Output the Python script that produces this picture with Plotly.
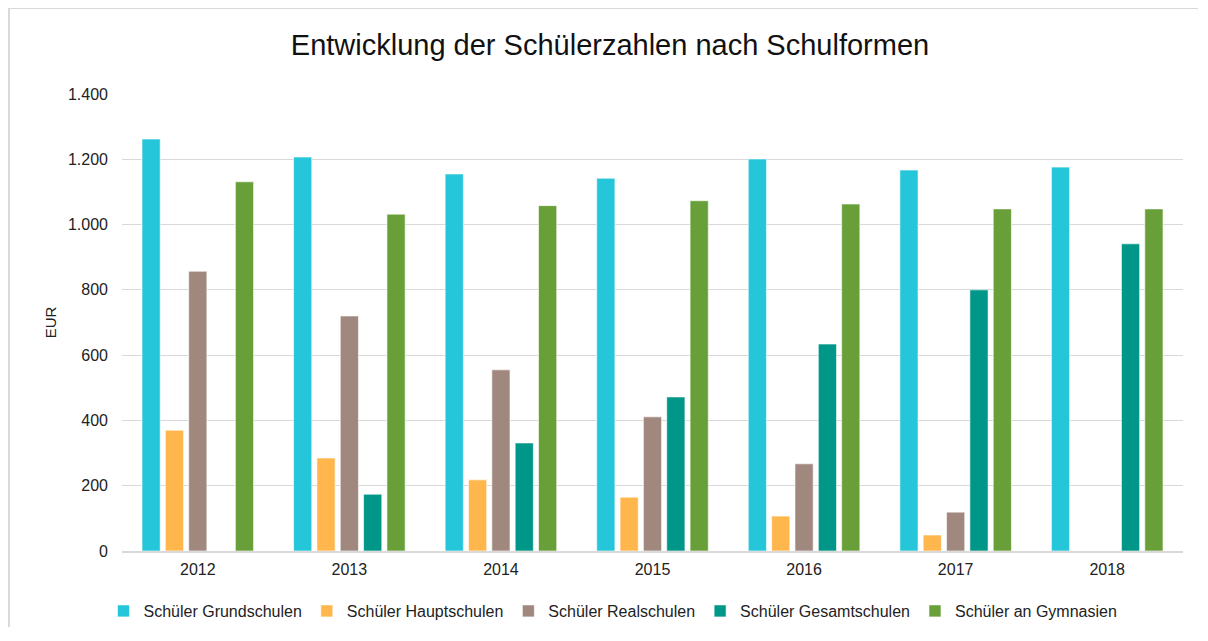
import plotly.graph_objects as go

years = ["2012", "2013", "2014", "2015", "2016", "2017", "2018"]
grundschulen = [1262, 1207, 1155, 1142, 1201, 1167, 1176]
hauptschulen = [370, 285, 218, 165, 107, 49, 0]
realschulen = [857, 720, 555, 411, 267, 119, 0]
gesamtschulen = [0, 174, 331, 472, 634, 800, 941]
gymnasien = [1131, 1032, 1058, 1073, 1063, 1048, 1048]

series = [
    ("Schüler Grundschulen", grundschulen, "#26C6DA"),
    ("Schüler Hauptschulen", hauptschulen, "#FFB74D"),
    ("Schüler Realschulen", realschulen, "#A1887F"),
    ("Schüler Gesamtschulen", gesamtschulen, "#009688"),
    ("Schüler an Gymnasien", gymnasien, "#689F38"),
]

fig = go.Figure()
for name, vals, col in series:
    fig.add_trace(go.Bar(
        name=name, x=years, y=vals,
        marker=dict(color=col, line=dict(color="rgba(255,255,255,0.6)", width=1)),
    ))

# page has an 8px body margin; keep the figure well inside the
# 1208x641 viewport so that no scrollbars appear
OFF = 8
W, H = 1190, 619
L, T = 122 - OFF, 94 - OFF
R = (OFF + W) - 1183
B = (OFF + H) - 551
pw = W - L - R
ph = H - T - B

def px_x(p):  # page pixel -> paper x
    return (p - OFF - L) / pw

def px_y(p):  # page pixel -> paper y
    return (H - B - (p - OFF)) / ph

bx0, bx1 = px_x(9), px_x(1230)
by0, by1 = px_y(680), px_y(8)
border_path = f"M {bx0},{by0} L {bx0},{by1} L {bx1},{by1}"

fig.update_layout(
    width=W, height=H,
    margin=dict(l=L, r=R, t=T, b=B, autoexpand=False),
    paper_bgcolor="white", plot_bgcolor="white",
    separators=",.",
    font=dict(family="Liberation Sans, Arial, sans-serif", size=16, color="#222222"),
    title=dict(text="Entwicklung der Schülerzahlen nach Schulformen",
               x=(610 - OFF) / W, xanchor="center", xref="container",
               y=1 - (45 - OFF) / H, yanchor="middle", yref="container",
               font=dict(size=29, color="#111111")),
    barmode="group", bargap=0.23, bargroupgap=0.22,
    showlegend=True,
    legend=dict(orientation="h", x=px_x(613), xanchor="center",
                y=px_y(611), yanchor="middle",
                font=dict(size=16, color="#222222"),
                itemwidth=30, tracegroupgap=0),
    xaxis=dict(showgrid=False, showline=True, linecolor="#D9D9D9", linewidth=1.5,
               ticks="", ticklabelstandoff=3, tickfont=dict(size=16, color="#222222")),
    yaxis=dict(range=[0, 1400], dtick=200, tickformat=",d",
               showgrid=True, gridcolor="#D9D9D9", gridwidth=1.3,
               zeroline=False, showline=False, ticks="",
               ticklabelstandoff=13,
               tickfont=dict(size=16, color="#222222"),
               title=dict(text="EUR", font=dict(size=15, color="#222222"), standoff=7)),
    shapes=[dict(type="path", xref="paper", yref="paper", path=border_path,
                 line=dict(color="#D9D9D9", width=2), layer="below")],
)

fig.write_html("out.html")
